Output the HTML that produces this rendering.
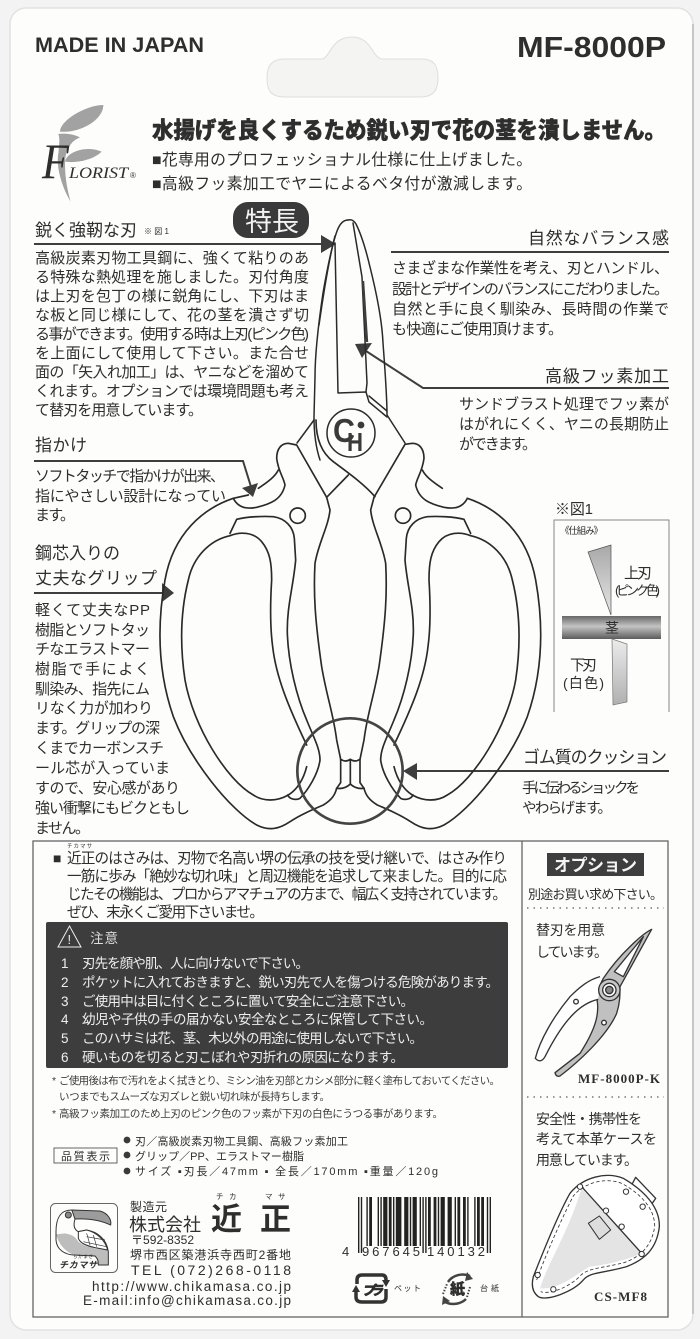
<!DOCTYPE html>
<html lang="ja"><head><meta charset="utf-8"><title>MF-8000P</title>
<style>
html,body{margin:0;padding:0;background:#f3f3f3}
svg{display:block}
text{font-family:"Liberation Sans","Noto Sans CJK JP",sans-serif;fill:#2e2e2e}
.h{font-size:17px}
.p{font-size:15px}
.w{fill:#eee}
.s{font-size:10.5px;fill:#3a3a3a}
.serif{font-family:"Liberation Serif","Noto Serif CJK SC",serif}
.l{fill:none;stroke:#2a2a2a;stroke-width:1.5;stroke-linejoin:round;stroke-linecap:round}
.a{fill:#3e3e3e}
.b{fill:none;stroke:#3e3e3e;stroke-width:2}
</style></head><body>
<svg xmlns="http://www.w3.org/2000/svg" width="700" height="1339" viewBox="0 0 700 1339">
<defs>
<linearGradient id="st" x1="0" y1="0" x2="0" y2="1"><stop offset="0" stop-color="#666"/><stop offset=".45" stop-color="#c4c4c4"/><stop offset="1" stop-color="#5c5c5c"/></linearGradient>
<linearGradient id="ub" x1="0" y1="0" x2="0" y2="1"><stop offset="0" stop-color="#a8a8a8"/><stop offset="1" stop-color="#e6e6e6"/></linearGradient>
<linearGradient id="lb" x1="0" y1="0" x2="0" y2="1"><stop offset="0" stop-color="#ececec"/><stop offset="1" stop-color="#b0b0b0"/></linearGradient>
</defs>
<rect width="700" height="1339" fill="#f3f3f3"/>
<rect x="10" y="8" width="683" height="1322" rx="16" fill="#fdfdfb" stroke="#e2e2e2" stroke-width="1.5"/>
<path d="M693,24 V1314" stroke="#c6c6c6" stroke-width="2" fill="none"/>
<path d="M267,78 C267,65 272,59 285,59 L322,59 C330,58 331,37 352,37 C372,37 372,58 382,59 L422,59 C434,59 438,66 438,78 C438,92 432,97 420,97 L285,97 C272,97 267,92 267,78Z" fill="#f4f4f2" stroke="#dedede"/>

<text x="35" y="52" font-size="21" font-weight="700" textLength="169" lengthAdjust="spacingAndGlyphs">MADE IN JAPAN</text>
<text x="517" y="57" font-size="29" font-weight="700" textLength="149" lengthAdjust="spacingAndGlyphs">MF-8000P</text>

<!-- Florist logo -->
<g transform="translate(30,100) scale(.33333)" fill="#a2a2a2">
<path d="M90,95 C90,60 170,15 220,15 C220,60 150,100 90,95Z"/>
<path d="M85,102 C110,98 140,105 150,113 C125,120 105,150 105,190 C105,240 115,280 122,305 C95,260 78,200 85,160 C88,130 90,115 85,102Z"/>
<path d="M105,185 C110,155 170,135 215,155 C190,180 140,190 105,185Z"/>
</g>
<text class="serif" x="42" y="178" font-size="50" font-style="italic" textLength="27" lengthAdjust="spacingAndGlyphs">F</text>
<text class="serif" x="69" y="178" font-size="16" font-style="italic" textLength="59" lengthAdjust="spacingAndGlyphs">LORIST</text>
<text x="130" y="178" font-size="8">®</text>

<text x="152" y="138" font-size="23" font-weight="900" textLength="514" lengthAdjust="spacingAndGlyphs" stroke="#2e2e2e" stroke-width=".5">水揚げを良くするため鋭い刃で花の茎を潰しません。</text>
<text x="152" y="165" font-size="15.8" textLength="380">■花専用のプロフェッショナル仕様に仕上げました。</text>
<text x="152" y="189" font-size="15.8" textLength="380">■高級フッ素加工でヤニによるベタ付が激減します。</text>

<rect x="233" y="202" width="76" height="36" rx="15" fill="#3a3a3a"/>
<text x="245" y="231" font-size="27" textLength="54" style="fill:#f2f2f2">特長</text>

<!-- left column -->
<text x="35" y="236" class="h" textLength="102">鋭く強靭な刃</text>
<text x="144" y="234" font-size="8" textLength="25">※図1</text>
<line x1="34" y1="244" x2="324" y2="244" class="b"/>
<polygon class="a" points="321,235 336,244 321,253"/>
<g class="p">
<text x="35" y="263" textLength="274">高級炭素刃物工具鋼に、強くて粘りのあ</text>
<text x="35" y="282" textLength="274">る特殊な熱処理を施しました。刃付角度</text>
<text x="35" y="301" textLength="274">は上刃を包丁の様に鋭角にし、下刃はま</text>
<text x="35" y="320" textLength="274">な板と同じ様にして、花の茎を潰さず切</text>
<text x="35" y="339" textLength="274">る事ができます。使用する時は上刃(ピンク色)</text>
<text x="35" y="358" textLength="274">を上面にして使用して下さい。また合せ</text>
<text x="35" y="377" textLength="274">面の「矢入れ加工」は、ヤニなどを溜めて</text>
<text x="35" y="396" textLength="274">くれます。オプションでは環境問題も考え</text>
<text x="35" y="415" textLength="168">て替刃を用意しています。</text>
</g>
<text x="35" y="451" class="h" textLength="52">指かけ</text>
<path d="M34,461 H243 L252,490" class="b"/>
<polygon class="a" points="253,497 242,488 258,483"/>
<g class="p">
<text x="35" y="481" textLength="190">ソフトタッチで指かけが出来、</text>
<text x="35" y="501" textLength="191">指にやさしい設計になってい</text>
<text x="35" y="520" textLength="40">ます。</text>
</g>
<text x="35" y="559" class="h" textLength="85">鋼芯入りの</text>
<text x="35" y="584" class="h" textLength="122">丈夫なグリップ</text>
<line x1="34" y1="593" x2="164" y2="593" class="b"/>
<polygon class="a" points="162,583 174,593 162,602"/>
<g class="p">
<text x="35" y="615" textLength="115">軽くて丈夫なPP</text>
<text x="35" y="635" textLength="115">樹脂とソフトタッ</text>
<text x="35" y="654" textLength="115">チなエラストマー</text>
<text x="35" y="674" textLength="115">樹脂で手によく</text>
<text x="35" y="694" textLength="115">馴染み、指先にム</text>
<text x="35" y="713" textLength="118">リなく力が加わり</text>
<text x="35" y="733" textLength="125">ます。グリップの深</text>
<text x="35" y="753" textLength="129">くまでカーボンスチ</text>
<text x="35" y="773" textLength="135">ール芯が入っていま</text>
<text x="35" y="793" textLength="145">すので、安心感があり</text>
<text x="35" y="813" textLength="155">強い衝撃にもビクともし</text>
<text x="35" y="833" textLength="55">ません。</text>
</g>

<!-- right column -->
<text x="528" y="244" class="h" textLength="141">自然なバランス感</text>
<line x1="391" y1="252" x2="669" y2="252" class="b"/>
<g class="p">
<text x="392" y="273" textLength="277">さまざまな作業性を考え、刃とハンドル、</text>
<text x="392" y="294" textLength="277">設計とデザインのバランスにこだわりました。</text>
<text x="392" y="314" textLength="277">自然と手に良く馴染み、長時間の作業で</text>
<text x="392" y="334" textLength="171">も快適にご使用頂けます。</text>
</g>
<text x="545" y="382" class="h" textLength="124">高級フッ素加工</text>
<path d="M669,388 H423 L366,351" class="b"/>
<polygon class="a" points="355,344 372,343 362,358"/>
<g font-size="15">
<text x="459" y="409" textLength="210">サンドブラスト処理でフッ素が</text>
<text x="459" y="429" textLength="210">はがれにくく、ヤニの長期防止</text>
<text x="459" y="449" textLength="78">ができます。</text>
</g>
<text x="523" y="763" class="h" textLength="144">ゴム質のクッション</text>
<line x1="669" y1="771" x2="414" y2="771" class="b"/>
<polygon class="a" points="403,771 417,763 417,780"/>
<text x="522" y="793" font-size="14.5" textLength="118">手に伝わるショックを</text>
<text x="522" y="813" font-size="14.5" textLength="90">やわらげます。</text>

<!-- figure 1 -->
<text x="555" y="514" font-size="15" textLength="38">※図1</text>
<path d="M554,712 V520 H669 V712" fill="none" stroke="#888" stroke-width="1"/>
<text x="560" y="534" font-size="9.5" textLength="43">《仕組み》</text>
<polygon points="588,552 611,545 611,615" fill="url(#ub)" stroke="#555" stroke-width=".7"/>
<rect x="562" y="616" width="99" height="23" fill="url(#st)"/>
<polygon points="612,639 627,644 627,702 613,705" fill="url(#lb)" stroke="#777" stroke-width=".7"/>
<text x="605" y="633" font-size="14" textLength="15">茎</text>
<text x="624" y="578" font-size="15" textLength="28">上刃</text>
<text x="615" y="595" font-size="13" textLength="45">(ピンク色)</text>
<text x="570" y="670" font-size="15" textLength="27">下刃</text>
<text x="563" y="688" font-size="14" textLength="41">(白色)</text>

<!-- scissors: blade part -->
<g class="l">
<path d="M348,220 C342,220 339,226 337,231 C332,245 327,270 323,293 C319,320 315,350 315,377 L314,417 C314,435 316,448 320,460"/>
<path d="M314,420 L297,443"/>
<path d="M335,236 C330,255 324,290 319,325"/>
<path d="M348,220 C352,219 354,221 356,224 C361,234 366,250 370,267 C377,295 382,320 383,343 C385,370 387,395 387,415 L405,443"/>
<path d="M335,243 L338,393 L366,392 L369,402 L387,417"/>
<path d="M353,223 L362,277 L367,383 L366,392"/>
<path d="M369,396 L387,411"/>
<circle cx="351" cy="433" r="24"/>
</g>
<path d="M363,281 L367,342" stroke="#3e3e3e" stroke-width="2.4" fill="none"/>
<text x="333" y="442" font-size="33" font-weight="700" textLength="22" lengthAdjust="spacingAndGlyphs" style="fill:#3a3a3a">C</text>
<text x="347" y="451" font-size="26" font-weight="700" textLength="16" lengthAdjust="spacingAndGlyphs" style="fill:#3a3a3a">H</text>
<circle cx="361" cy="425" r="3.4" fill="#3a3a3a"/>

<!-- scissors: handles (zoom coords) -->
<g transform="translate(130,420) scale(.33333)">
<g fill="none" stroke="#2a2a2a" stroke-width="5" stroke-linejoin="round" stroke-linecap="round">
<g>
<path d="M310,235 C220,265 130,340 105,480 C80,620 85,760 130,890 C180,1020 300,1170 380,1215 C420,1235 450,1225 480,1205 C510,1185 545,1170 580,1155 C605,1140 615,1125 620,1105"/>
<path d="M300,347 C240,360 190,410 175,480 C150,580 150,680 165,780 C190,920 290,1080 370,1125 C400,1145 440,1145 475,1125 C500,1110 520,1080 530,1040"/>
<path d="M300,347 C330,335 370,335 395,365 C420,395 425,430 425,480 C420,560 420,620 428,680 C438,770 475,860 530,975"/>
<path d="M300,340 L320,298 C350,290 400,288 430,290 C465,295 490,320 493,355 L497,420 C490,500 470,560 472,640 C475,730 500,830 530,900 C550,950 570,985 570,1020 C565,1060 535,1110 510,1135 C500,1140 480,1140 473,1125"/>
<path d="M590,232 L600,270 C595,320 565,370 555,430 C550,520 555,600 575,740 C590,830 610,880 620,960 L632,1018 L632,1088 L620,1105"/>
<path d="M632,1018 Q648,1028 661,1018 L661,1090"/>
<path d="M620,1105 Q645,1108 661,1092"/>
<path d="M310,235 C320,255 340,270 380,262 C420,252 455,240 465,195 C460,170 445,155 440,115 C440,85 455,70 475,70 L500,75 L590,232"/>
<path d="M385,205 C415,185 435,170 445,150"/>
<path d="M310,235 L355,225"/>
<circle cx="503" cy="287" r="23"/>
</g>
<g transform="translate(1322,0) scale(-1,1)">
<path d="M310,235 C220,265 130,340 105,480 C80,620 85,760 130,890 C180,1020 300,1170 380,1215 C420,1235 450,1225 480,1205 C510,1185 545,1170 580,1155 C605,1140 615,1125 620,1105"/>
<path d="M300,347 C240,360 190,410 175,480 C150,580 150,680 165,780 C190,920 290,1080 370,1125 C400,1145 440,1145 475,1125 C500,1110 520,1080 530,1040"/>
<path d="M300,347 C330,335 370,335 395,365 C420,395 425,430 425,480 C420,560 420,620 428,680 C438,770 475,860 530,975"/>
<path d="M300,340 L320,298 C350,290 400,288 430,290 C465,295 490,320 493,355 L497,420 C490,500 470,560 472,640 C475,730 500,830 530,900 C550,950 570,985 570,1020 C565,1060 535,1110 510,1135 C500,1140 480,1140 473,1125"/>
<path d="M590,232 L600,270 C595,320 565,370 555,430 C550,520 555,600 575,740 C590,830 610,880 620,960 L632,1018 L632,1088 L620,1105"/>
<path d="M632,1018 Q648,1028 661,1018"/>
<path d="M620,1105 Q645,1108 661,1092"/>
<path d="M310,235 C320,255 340,270 380,262 C420,252 455,240 465,195 C460,170 445,155 440,115 C440,85 455,70 475,70 L497,73 L590,232"/>
<path d="M385,205 C415,185 435,170 445,150"/>
<circle cx="503" cy="287" r="23"/>
</g>
<path d="M558,0 C558,50 570,95 610,125 C650,155 700,190 735,230"/>
<path d="M590,232 L655,165"/>
</g>
<circle cx="660" cy="1053" r="158" fill="none" stroke="#444" stroke-width="8"/>
</g>

<!-- bottom panel -->
<rect x="33" y="841" width="635" height="476" fill="none" stroke="#666" stroke-width="1.3"/>
<line x1="522" y1="841" x2="522" y2="1317" stroke="#666" stroke-width="1.3"/>
<text x="53" y="863" font-size="14" textLength="14">■</text>
<text x="67" y="848" font-size="5.5" textLength="25">チカマサ</text>
<g font-size="14.6">
<text x="67" y="863" textLength="440">近正のはさみは、刃物で名高い堺の伝承の技を受け継いで、はさみ作り</text>
<text x="67" y="881" textLength="440">一筋に歩み「絶妙な切れ味」と周辺機能を追求して来ました。目的に応</text>
<text x="67" y="899" textLength="440">じたその機能は、プロからアマチュアの方まで、幅広く支持されています。</text>
<text x="67" y="917" textLength="197">ぜひ、末永くご愛用下さいませ。</text>
</g>
<rect x="46" y="922" width="462" height="146" rx="2" fill="#3d3d3d"/>
<polygon points="69.5,926 81,947 58,947" fill="none" stroke="#eee" stroke-width="1"/>
<text x="67.5" y="944" font-size="13" style="fill:#eee">!</text>
<text x="90" y="943" font-size="13.5" textLength="28" style="fill:#ddd">注意</text>
<g font-size="13.5">
<text class="w" x="61" y="968">1</text><text class="w" x="82" y="968" textLength="227">刃先を顔や肌、人に向けないで下さい。</text>
<text class="w" x="61" y="987">2</text><text class="w" x="82" y="987" textLength="417">ポケットに入れておきますと、鋭い刃先で人を傷つける危険があります。</text>
<text class="w" x="61" y="1006">3</text><text class="w" x="82" y="1006" textLength="332">ご使用中は目に付くところに置いて安全にご注意下さい。</text>
<text class="w" x="61" y="1024">4</text><text class="w" x="82" y="1024" textLength="351">幼児や子供の手の届かない安全なところに保管して下さい。</text>
<text class="w" x="61" y="1043">5</text><text class="w" x="82" y="1043" textLength="341">このハサミは花、茎、木以外の用途に使用しないで下さい。</text>
<text class="w" x="61" y="1062">6</text><text class="w" x="82" y="1062" textLength="322">硬いものを切ると刃こぼれや刃折れの原因になります。</text>
</g>
<text class="s" x="52" y="1084">*</text>
<text class="s" x="59" y="1084" textLength="441">ご使用後は布で汚れをよく拭きとり、ミシン油を刃部とカシメ部分に軽く塗布しておいてください。</text>
<text class="s" x="59" y="1100" textLength="271">いつまでもスムーズな刃ズレと鋭い切れ味が長持ちします。</text>
<text class="s" x="52" y="1117">*</text>
<text class="s" x="59" y="1117" textLength="384">高級フッ素加工のため上刃のピンク色のフッ素が下刃の白色にうつる事があります。</text>

<rect x="54" y="1148" width="63" height="15" fill="none" stroke="#555" stroke-width=".9"/>
<text x="61" y="1160" font-size="11" textLength="49">品質表示</text>
<circle cx="127" cy="1140" r="3.4" fill="#3a3a3a"/>
<circle cx="127" cy="1155" r="3.4" fill="#3a3a3a"/>
<circle cx="127" cy="1171" r="3.4" fill="#3a3a3a"/>
<text x="135" y="1145" font-size="11" textLength="213">刃／高級炭素刃物工具鋼、高級フッ素加工</text>
<text x="135" y="1160" font-size="11" textLength="169">グリップ／PP、エラストマー樹脂</text>
<text x="135" y="1175" font-size="11" textLength="303">サイズ ▪刃長／47mm ▪ 全長／170mm ▪重量／120g</text>

<!-- toucan -->
<rect x="50.5" y="1203.5" width="67" height="69" rx="5" fill="none" stroke="#666" stroke-width="1"/>
<g transform="translate(40,1195) scale(.33333)" stroke="#333" stroke-width="3" stroke-linejoin="round">
<path d="M48,118 C60,160 90,178 112,182 L165,183 C172,190 175,195 175,210 L205,210 L205,170 C200,150 185,165 165,160 C145,155 125,150 115,140 C105,125 100,120 75,115Z" fill="#bdbdbd" stroke="none"/>
<path d="M95,45 C60,45 48,70 48,110 L48,135 C50,165 75,178 100,180 L165,183 C172,190 175,195 175,210 L205,210 L205,170 C200,130 170,110 140,105 L115,110 C105,105 98,95 105,72" fill="none"/>
<path d="M95,45 L180,48 C205,55 215,75 212,90 C180,75 140,70 105,72 C100,60 98,50 95,45Z" fill="#9c9c9c"/>
<path d="M115,110 L140,105 C170,112 195,135 203,165 L165,158 C140,152 120,145 115,130Z" fill="#fff"/>
<path d="M140,115 L150,150 M160,120 L170,155 M140,125 L195,135 M130,140 L200,155" fill="none" stroke-width="2"/>
<circle cx="85" cy="60" r="9" fill="#888"/>
</g>
<text x="73" y="1258" font-size="4.5" textLength="20">ちかまさ</text>
<text x="59" y="1268" font-size="9" font-weight="700" font-style="italic" textLength="38">チカマサ</text>

<text x="130" y="1211" font-size="12" textLength="37">製造元</text>
<text x="129" y="1231" font-size="18" textLength="72">株式会社</text>
<text x="216" y="1199" font-size="7.5">チ</text><text x="229" y="1199" font-size="7.5">カ</text>
<text x="265" y="1199" font-size="7.5">マ</text><text x="278" y="1199" font-size="7.5">サ</text>
<text x="211" y="1230" font-size="31" font-weight="700">近</text>
<text x="260" y="1230" font-size="31" font-weight="700">正</text>
<text x="131" y="1244" font-size="12" textLength="63">〒592-8352</text>
<text x="130" y="1259" font-size="12" textLength="161">堺市西区築港浜寺西町2番地</text>
<text x="131" y="1275" font-size="14" textLength="160">TEL (072)268-0118</text>
<text x="92" y="1291" font-size="13.5" textLength="199">http://www.chikamasa.co.jp</text>
<text x="83" y="1305" font-size="13.5" textLength="208">E-mail:info@chikamasa.co.jp</text>

<!-- barcode -->
<g transform="translate(358,1197) scale(1.4,1)" fill="#222">
<path d="M0 0h1v56h-1zM2 0h1v56h-1zM6 0h1v49h-1zM8 0h2v49h-2zM14 0h1v49h-1zM16 0h1v49h-1zM18 0h3v49h-3zM22 0h2v49h-2zM25 0h1v49h-1zM27 0h4v49h-4zM33 0h3v49h-3zM37 0h1v49h-1zM39 0h3v49h-3zM44 0h1v49h-1zM46 0h1v56h-1zM48 0h1v56h-1zM50 0h2v49h-2zM54 0h2v49h-2zM57 0h1v49h-1zM59 0h3v49h-3zM64 0h3v49h-3zM69 0h1v49h-1zM71 0h2v49h-2zM75 0h2v49h-2zM78 0h1v49h-1zM83 0h1v49h-1zM85 0h2v49h-2zM88 0h2v49h-2zM92 0h1v56h-1zM94 0h1v56h-1z"/>
</g>
<text x="342" y="1256" font-size="13" textLength="9">4</text>
<text x="362" y="1256" font-size="13" textLength="58">967645</text>
<text x="427" y="1256" font-size="13" textLength="58">140132</text>

<!-- recycle marks -->
<path d="M357,1284 V1280 Q357,1275 362,1275 H382 Q386,1275 386,1280" fill="none" stroke="#333" stroke-width="3.5"/>
<path d="M386,1289 V1297 Q386,1302 381,1302 H362 Q356,1302 356,1297 V1292" fill="none" stroke="#333" stroke-width="3.5"/>
<polygon points="352,1292 360,1292 356,1285" fill="#333"/>
<polygon points="382,1280 390,1280 386,1287" fill="#333"/>
<text x="362" y="1295" font-size="13" font-weight="900" font-style="italic" textLength="21" stroke="#2e2e2e" stroke-width=".5">プラ</text>
<text x="394" y="1291" font-size="8" textLength="27">ペット</text>
<path d="M448,1282 A17,15 0 0 1 470,1276" fill="none" stroke="#444" stroke-width="2.5"/>
<path d="M466,1299 A17,15 0 0 1 445,1302" fill="none" stroke="#444" stroke-width="2.5"/>
<polygon points="467,1272 473,1279 465,1281" fill="#444"/>
<polygon points="442,1305 443,1296 450,1301" fill="#444"/>
<path d="M443,1294 L447,1284 M470,1287 L467,1297" fill="none" stroke="#444" stroke-width="2" stroke-dasharray="1.5 1.5"/>
<text x="450" y="1294" font-size="15" font-weight="900" stroke="#2e2e2e" stroke-width=".3">紙</text>
<text x="480" y="1291" font-size="8" textLength="19">台紙</text>

<!-- option column -->
<rect x="547" y="853" width="97" height="23" fill="#3e3e3e"/>
<text x="554" y="871" font-size="17" font-weight="700" textLength="83" style="fill:#f4f4f4">オプション</text>
<text x="528" y="899" font-size="13" textLength="135">別途お買い求め下さい。</text>
<line x1="527" y1="908" x2="664" y2="908" stroke="#777" stroke-width="1.5" stroke-dasharray="1.5 5"/>
<text x="536" y="935" font-size="14" textLength="69">替刃を用意</text>
<text x="536" y="957" font-size="14" textLength="72">しています。</text>

<g transform="translate(520,840) scale(.33333)" stroke="#333" stroke-width="4" stroke-linejoin="round">
<path d="M300,440 L395,268 C370,280 300,340 250,415 L228,460 C235,500 245,540 180,640 L105,698 Q108,712 120,708 C170,670 260,590 290,520 C300,490 300,465 300,440Z" fill="#c0c0c0"/>
<path d="M235,478 C180,490 130,540 75,650 Q62,672 46,655 C60,600 100,530 150,470 C180,440 205,420 240,410" fill="#fff"/>
<path d="M283,395 L370,290 L310,410Z" fill="#fff"/>
<circle cx="268" cy="450" r="32" fill="#c8c8c8"/>
<circle cx="268" cy="450" r="20" fill="#fff"/>
<circle cx="268" cy="450" r="11" fill="#888"/>
<circle cx="168" cy="485" r="7" fill="#fff"/>
<circle cx="252" cy="548" r="7" fill="#fff"/>
</g>
<text class="serif" x="578" y="1083" font-size="13" font-weight="700" textLength="82">MF-8000P-K</text>
<line x1="527" y1="1097" x2="664" y2="1097" stroke="#777" stroke-width="1.5" stroke-dasharray="1.5 5"/>
<text x="536" y="1124" font-size="14" textLength="106">安全性・携帯性を</text>
<text x="536" y="1144" font-size="14" textLength="121">考えて本革ケースを</text>
<text x="536" y="1165" font-size="14" textLength="102">用意しています。</text>

<g transform="translate(520,840) scale(.33333)" fill="none" stroke="#333" stroke-width="4" stroke-linejoin="round">
<polygon points="335,1035 347,1012 407,1075 390,1100" fill="#fff"/>
<path d="M40,1310 C60,1260 110,1130 150,1060 C190,1010 260,995 310,1015 C370,1050 420,1100 418,1160 C410,1230 370,1260 320,1280 C250,1300 210,1295 190,1320 C160,1355 80,1385 55,1370 C35,1355 35,1330 40,1310Z" fill="#fff"/>
<path d="M60,1345 C80,1280 130,1200 170,1090 L185,1045 L365,1240 C320,1260 260,1275 210,1280 C170,1300 120,1350 60,1345Z" fill="#e4e4e4" stroke="none"/>
<path d="M50,1320 C75,1250 125,1135 160,1068 C195,1025 260,1012 305,1030 C360,1060 405,1105 404,1160 C395,1220 360,1250 315,1267 C250,1285 205,1282 180,1308 C150,1340 90,1365 62,1355" stroke-dasharray="10 7" stroke-width="2.5"/>
<path d="M185,1040 L365,1240"/>
<path d="M205,1150 L238,1128 L272,1170 L238,1198Z" stroke-width="3" fill="#ddd"/>
<g stroke-width="3" fill="#fff">
<circle cx="180" cy="1040" r="8"/><circle cx="258" cy="1112" r="8"/><circle cx="305" cy="1160" r="8"/><circle cx="318" cy="1055" r="8"/><circle cx="368" cy="1100" r="8"/><circle cx="365" cy="1242" r="8"/><circle cx="53" cy="1305" r="8"/><circle cx="100" cy="1348" r="8"/>
</g>
</g>
<text class="serif" x="594" y="1301" font-size="13" font-weight="700" textLength="53">CS-MF8</text>
</svg>
</body></html>
